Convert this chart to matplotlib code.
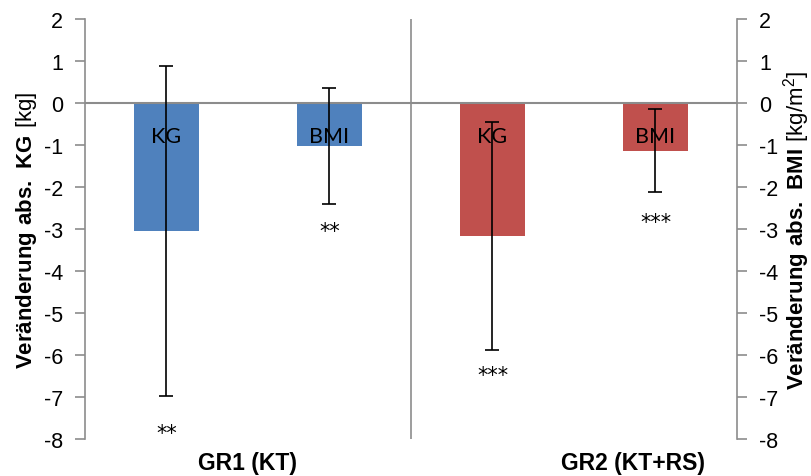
import matplotlib
matplotlib.use('Agg')
from matplotlib import pyplot as plt

# data
bar_labels = ['KG', 'BMI', 'KG', 'BMI']
means = [-3.05, -1.03, -3.17, -1.135]
sds = [3.92, 1.385, 2.72, 0.99]
colors = ['#4F81BD', '#4F81BD', '#C0504D', '#C0504D']
stars = ['**', '**', '***', '***']
star_y = [-7.85, -3.05, -6.47, -2.84]
groups = ['GR1 (KT)', 'GR2 (KT+RS)']
group_x = [0.5, 2.86]
yticks = [2, 1, 0, -1, -2, -3, -4, -5, -6, -7, -8]

plt.rcParams['font.family'] = 'Liberation Sans'
plt.rcParams['axes.unicode_minus'] = False
plt.rcParams['mathtext.fontset'] = 'custom'
plt.rcParams['mathtext.rm'] = 'Liberation Sans'
plt.rcParams['mathtext.bf'] = 'Liberation Sans:bold'

fig = plt.figure(figsize=(8.12, 4.77), dpi=100)
ax = fig.add_axes([85/812, 1-440/477, 652/812, 420/477])

x = list(range(len(means)))
ax.bar(x, means, width=0.4, color=colors, zorder=2)
ax.errorbar(x, means, yerr=sds, fmt='none', ecolor='black', elinewidth=1.2,
            capsize=4.8, capthick=1.2, zorder=4)

ax.axhline(0, color='#8c8c8c', lw=1.5, zorder=3)
ax.axvline(1.5, color='#8c8c8c', lw=1.2, zorder=1)

for xi, lab in zip(x, bar_labels):
    ax.text(xi, -0.79, lab, ha='center', va='center', fontsize=15.5,
            family='Lato', zorder=5)
for xi, s, sy in zip(x, stars, star_y):
    ax.text(xi, sy, s, ha='center', va='center', fontsize=15,
            family='DejaVu Sans', zorder=5)

ax.set_xlim(-0.5, 3.5)
ax.set_ylim(-8, 2)
ax.set_xticks([])
ax.set_yticks(yticks)
for sp in ['top', 'bottom', 'right']:
    ax.spines[sp].set_visible(False)
ax.spines['left'].set_color('#8c8c8c')
ax.spines['left'].set_linewidth(1.2)
ax.tick_params(axis='y', colors='#8c8c8c', labelcolor='black', labelsize=15.5,
               length=7, width=1.2, pad=9)
ax.set_ylabel(r'$\mathbf{Veränderung\ abs.\ KG}\ \mathrm{[kg]}$', fontsize=16,
              labelpad=3)

ax2 = ax.twinx()
ax2.set_ylim(-8, 2)
ax2.set_yticks(yticks)
for sp in ['top', 'bottom', 'left']:
    ax2.spines[sp].set_visible(False)
ax2.spines['right'].set_color('#8c8c8c')
ax2.spines['right'].set_linewidth(1.2)
ax2.tick_params(axis='y', colors='#8c8c8c', labelcolor='black', labelsize=15.5,
                length=7, width=1.2, pad=9)
ax2.set_ylabel(r'$\mathbf{Veränderung\ abs.\ BMI}\ \mathrm{[kg/m^2]}$',
               fontsize=16, rotation=90, labelpad=2)

for gx, g in zip(group_x, groups):
    ax.text(gx, -8.55, g, ha='center', va='center', fontsize=16.5,
            fontweight='bold')

fig.savefig('out.png', dpi=100)
